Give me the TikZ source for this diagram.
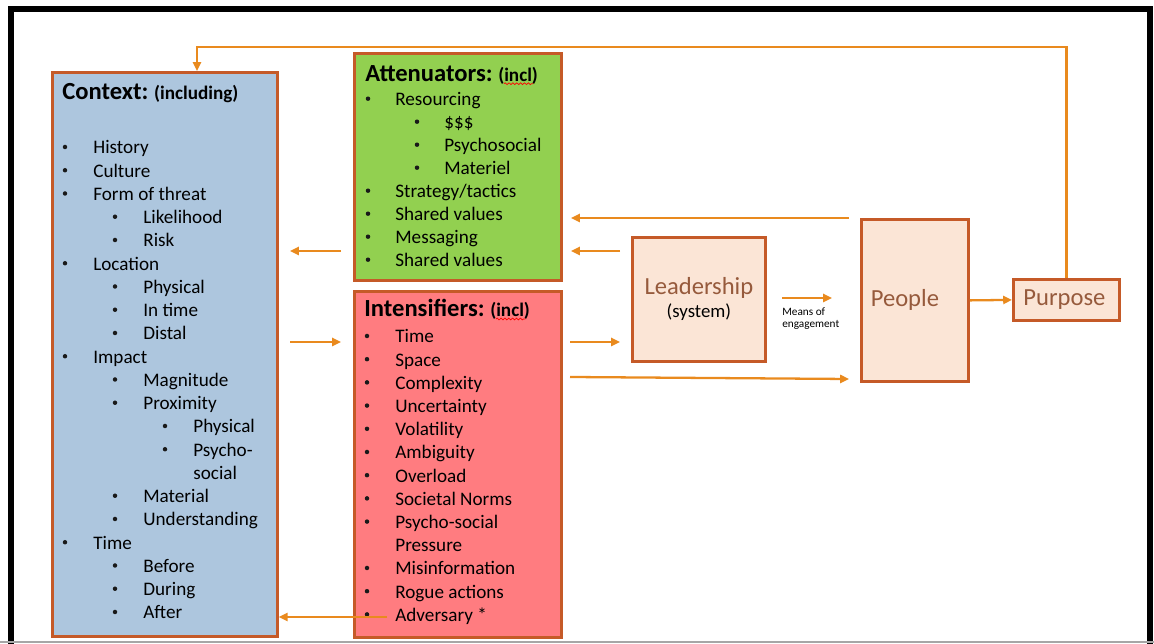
\documentclass[tikz,border=0pt]{standalone}
\usepackage{fontspec}
\setmainfont{Carlito}
\usetikzlibrary{arrows.meta, calc, decorations.pathmorphing}

\definecolor{ctxblue}{RGB}{173,198,222}
\definecolor{attgreen}{RGB}{146,208,80}
\definecolor{intred}{RGB}{255,124,128}
\definecolor{peach}{RGB}{251,229,214}
\definecolor{edge}{RGB}{197,90,40}
\definecolor{flowc}{RGB}{233,138,30}
\definecolor{brownt}{RGB}{150,90,60}

\begin{document}
\begin{tikzpicture}[x=0.02cm, y=-0.02cm,
    panel/.style={draw=edge, line width=1.6pt, inner sep=0pt, anchor=north west},
    flow/.style={draw=flowc, line width=1.3pt, -{Triangle[length=5pt, width=4.6pt]}},
    item/.style={anchor=base west, inner sep=0pt, font=\fontsize{10.9}{13.3}\selectfont},
    dot/.style={circle, fill=black!90, inner sep=0pt, minimum size=0.09cm},
    head/.style={anchor=base west, inner sep=0pt, font=\fontsize{14}{17}\selectfont\bfseries},
    incl/.style={anchor=base west, inner sep=0pt, font=\fontsize{10.9}{13.3}\selectfont\bfseries},
    big/.style={text=brownt, inner sep=0pt, font=\fontsize{14}{17}\selectfont},
    squiggle/.style={draw=red, line width=0.4pt, decorate,
        decoration={snake, amplitude=0.5pt, segment length=2.2pt}}]
    % ================= Parameters =================
    \def\W{1154}       % canvas width (px units)
    \def\H{644}        % canvas height
    \def\step{23.25}   % line pitch of the context list
    \def\lift{7}       % bullet centre above the baseline

    \useasboundingbox (0,0) rectangle (\W,\H);

    % ================= Frame =================
    \draw[black, line width=3.1pt] (11,\H) -- (11,9) -- (1150,9) -- (1150,\H);
    \draw[black!35, line width=1pt] (0,642) -- (\W,642);

    % ================= Panels =================
    \node[panel, fill=ctxblue, minimum width=4.5cm, minimum height=11.28cm] (ctx) at (51,71) {};
    \node[panel, fill=attgreen, minimum width=4.14cm, minimum height=4.54cm] (att) at (353,52) {};
    \node[panel, fill=intred, minimum width=4.14cm, minimum height=6.92cm] (ints) at (353,290) {};
    \node[panel, fill=peach, minimum width=2.66cm, minimum height=2.48cm, align=center] (lead) at (631,236)
        {{\color{brownt}\fontsize{14}{17}\selectfont Leadership}\\[1pt]{\fontsize{10.7}{13}\selectfont (system)}};
    \node[panel, fill=peach, minimum width=2.14cm, minimum height=3.24cm] (ppl) at (860,218) {};
    \node[panel, fill=peach, minimum width=2.12cm, minimum height=0.82cm] (purp) at (1012,278) {};
    \node[big] (ppl-t) at ($(ppl.center)+(-10,0)$) {People};
    \node[big] (purp-t) at ($(purp.center)+(-2,0)$) {Purpose};

    % ================= Context list =================
    \node[head] (ctx-t) at (62,100) {Context:};
    \node[incl] (ctx-incl) at ($(ctx-t.base east)+(5,0)$) {(including)};
    \foreach \lv/\txt [count=\i from 0] in {1/History, 1/Culture, 1/Form of threat, 2/Likelihood,
        2/Risk, 1/Location, 2/Physical, 2/In time, 2/Distal, 1/Impact, 2/Magnitude, 2/Proximity,
        3/Physical, 3/Psycho-, -3/social, 2/Material, 2/Understanding, 1/Time, 2/Before,
        2/During, 2/After} {
        \pgfmathsetmacro\yy{154+\step*\i}
        \pgfmathtruncatemacro\ind{abs(\lv)-1}
        \ifnum\lv>0 \node[dot] (ctx-b\i) at ({65+50*\ind},\yy-\lift) {}; \fi
        \node[item] (ctx-\i) at ({93+50*\ind},\yy) {\txt};
    }

    % ================= Attenuators list =================
    \node[head] (att-t) at (365,81.7) {Attenuators:};
    \node[incl] (att-incl) at ($(att-t.base east)+(5,0)$) {(incl)};
    \draw[squiggle] ($(att-incl.base west)+(6,2)$) -- ($(att-incl.base east)+(-5,2)$);
    \foreach \lv/\txt [count=\i from 0] in {1/Resourcing, 2/\$\$\$, 2/Psychosocial, 2/Materiel,
        1/{Strategy/tactics}, 1/Shared values, 1/Messaging, 1/Shared values} {
        \pgfmathsetmacro\yy{105.7+23*\i}
        \pgfmathtruncatemacro\ind{abs(\lv)-1}
        \node[dot] (att-b\i) at ({368+49*\ind},\yy-\lift) {};
        \node[item] (att-\i) at ({395+49*\ind},\yy) {\txt};
    }

    % ================= Intensifiers list =================
    \node[head] (ints-t) at (364,317) {Intensifiers:};
    \node[incl] (ints-incl) at ($(ints-t.base east)+(5,0)$) {(incl)};
    \draw[squiggle] ($(ints-incl.base west)+(6,2)$) -- ($(ints-incl.base east)+(-5,2)$);
    \foreach \lv/\txt [count=\i from 0] in {1/Time, 1/Space, 1/Complexity, 1/Uncertainty,
        1/Volatility, 1/Ambiguity, 1/Overload, 1/Societal Norms, 1/Psycho-social, -1/Pressure,
        1/Misinformation, 1/Rogue actions, 1/Adversary *} {
        \pgfmathsetmacro\yy{343+23.2*\i}
        \ifnum\lv>0 \node[dot] (ints-b\i) at (367,\yy-\lift) {}; \fi
        \node[item] (ints-\i) at (395,\yy) {\txt};
    }

    % ================= Flows =================
    \coordinate (attL) at (341,251);  \coordinate (ctxR) at (290,251);
    \coordinate (ctxR2) at (290,342); \coordinate (intL) at (341,342);
    \coordinate (pplL) at (849,218);  \coordinate (attR) at (571,218);
    \coordinate (leadL) at (620,251); \coordinate (attR2) at (571,251);
    \coordinate (intR) at (570,342);  \coordinate (leadL2) at (620,342);
    \coordinate (intR2) at (570,377); \coordinate (pplL2) at (849,379);
    \coordinate (moeA) at (782,298);  \coordinate (moeB) at (832,298);
    \coordinate (advR) at (387,617);
    \coordinate (loopL) at (197,47);

    \draw[flow] (attL) -- (ctxR);
    \draw[flow] (ctxR2) -- (intL);
    \draw[flow] (pplL) -- (attR);
    \draw[flow] (leadL) -- (attR2);
    \draw[flow] (intR) -- (leadL2);
    \draw[flow] (intR2) -- (pplL2);
    \draw[flow] (moeA) -- (moeB);
    \draw[flow] (advR) -- (advR -| ctx.east);
    \draw[flow] (ppl.east) -- (purp.west);
    \draw[flow] (purp.north) |- (loopL) -- (loopL |- ctx.north);

    \node[anchor=north west, inner sep=0pt, align=left, font=\fontsize{6.4}{7.2}\selectfont] (moe)
        at (782,307) {Means of\\engagement};
\end{tikzpicture}
\end{document}
